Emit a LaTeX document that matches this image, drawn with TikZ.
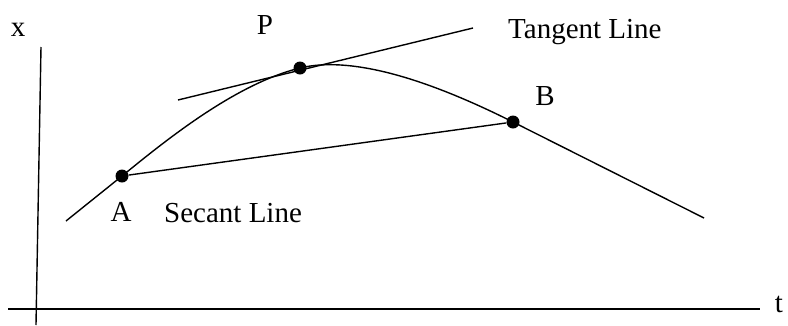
\documentclass[tikz,border=0pt]{standalone}
\usepackage{fontspec}
\setmainfont{Liberation Serif}
\begin{document}
\begin{tikzpicture}[x=1pt,y=-1pt,
  ln/.style={line width=1.4pt, black},
  pt/.style={circle, fill=black, inner sep=0pt, minimum size=13pt},
  lbl/.style={inner sep=0pt, font=\fontsize{29}{32}\selectfont}]
\useasboundingbox (0,0) rectangle (788,325);
% axes
\coordinate (ytop) at (41,47);
\coordinate (ybot) at (36,325);
\coordinate (tl) at (8,309);
\coordinate (tr) at (760,309);
\draw[ln] (ytop) -- (ybot);
\draw[ln] (tl) -- (tr);
\node[lbl] (xl) at (18,30) {x};
\node[lbl] (tlab) at (779,304) {t};
% points
\node[pt] (A) at (122,176) {};
\node[pt] (P) at (300,68) {};
\node[pt] (B) at (513,122) {};
% curve
\coordinate (cs) at (66,221);
\coordinate (ce) at (704,218);
\draw[ln] (cs) -- (A.center)
  .. controls (165,141) and (235,84) .. (P.center)
  .. controls (362,53) and (453,92) .. (B.center)
  -- (ce);
% tangent
\coordinate (t1) at (178,100);
\coordinate (t2) at (473,28);
\draw[ln] (t1) -- (t2);
% secant
\draw[ln] (A) -- (B);
% labels
\node[lbl] (Al) at (121,212) {A};
\node[lbl] (Pl) at (265,25) {P};
\node[lbl] (Bl) at (545,96) {B};
\node[lbl, anchor=west] (sec) at (164,213) {Secant Line};
\node[lbl, anchor=west] (tan) at (508,32) {Tangent Line};
\end{tikzpicture}
\end{document}
